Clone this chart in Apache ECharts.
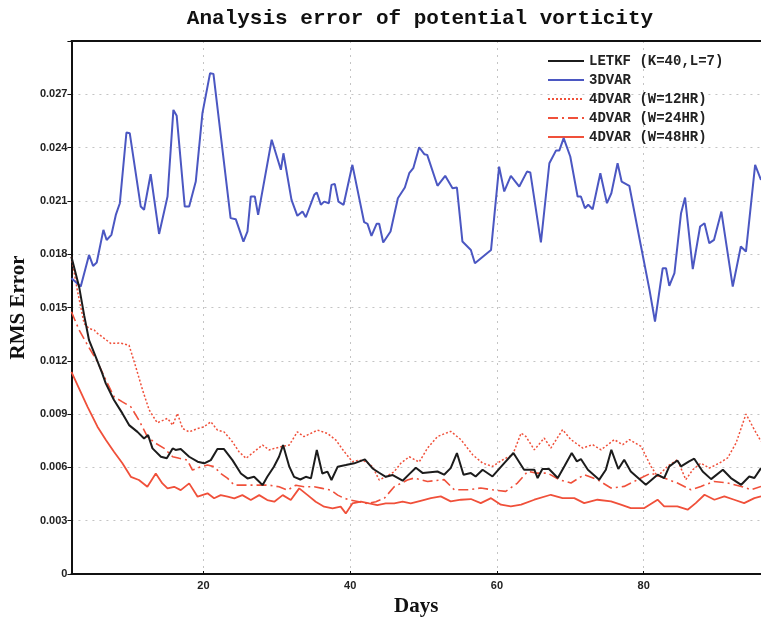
<!DOCTYPE html>
<html><head><meta charset="utf-8">
<script src="https://cdn.jsdelivr.net/npm/echarts@6/dist/echarts.min.js"></script>
<style>html,body{margin:0;padding:0;background:#fff}#c{width:761px;height:623px}</style>
</head><body><div id="c"></div>
<script>
// values are RMS error in units of 1e-3, x = day
const titleText = 'Analysis error of potential vorticity';
const xName = 'Days';
const yName = 'RMS Error';
const seriesNames = ['LETKF (K=40,L=7)', '3DVAR', '4DVAR (W=12HR)', '4DVAR (W=24HR)', '4DVAR (W=48HR)'];
const xTicks = [20, 40, 60, 80];
const yTicks = [0, 3, 6, 9, 12, 15, 18, 21, 24, 27];

const letkf = [[2,17.85],[3.05,16.16],[3.73,14.57],[4.4,13.16],[5.3,12.23],[6.2,11.29],[6.68,10.73],[7.8,9.79],[8.95,9.04],[9.86,8.38],[11,8.0],[11.9,7.63],[12.45,7.82],[13.05,7.07],[14.2,6.6],[15,6.51],[15.8,7.07],[16.2,6.98],[16.9,7.03],[18.05,6.6],[19.2,6.32],[20.1,6.23],[21,6.41],[21.9,7.03],[22.8,7.03],[23.95,6.41],[25.1,5.66],[26,5.38],[26.9,5.47],[27.6,5.19],[28.05,5.0],[28.7,5.47],[29.6,6.04],[30.3,6.6],[30.85,7.26],[31.7,6.04],[32.35,5.47],[33.2,5.32],[33.95,5.47],[34.65,5.38],[35.45,6.98],[36.2,5.66],[36.9,5.76],[37.45,5.29],[38.3,6.04],[39.4,6.13],[40.55,6.23],[42,6.45],[43.05,5.94],[43.95,5.7],[44.85,5.47],[45.8,5.57],[47.15,5.25],[48.05,5.62],[48.95,5.98],[49.9,5.68],[51.9,5.77],[52.8,5.59],[53.7,5.96],[54.55,6.81],[55.45,5.59],[56.45,5.68],[57.1,5.49],[58.05,5.87],[59.4,5.49],[61,6.24],[62.25,6.81],[63.7,5.87],[65.1,5.87],[65.55,5.4],[66.2,5.91],[67.1,5.91],[68.3,5.4],[69.2,6.06],[70.2,6.81],[70.9,6.34],[71.45,6.47],[72.4,5.87],[73.95,5.31],[74.85,5.87],[75.6,6.99],[76.55,5.91],[77.35,6.43],[78.25,5.77],[80.3,5.02],[81.9,5.59],[82.8,5.4],[83.5,6.06],[84.6,6.39],[85.1,6.06],[86.2,6.34],[86.9,6.49],[88.05,5.77],[89.2,5.34],[90.8,5.87],[91.9,5.4],[93.3,5.02],[94.4,5.49],[95.1,5.4],[96,5.96]];

const var3d = [[2,16.65],[3.27,16.18],[4.4,17.96],[4.95,17.34],[5.45,17.53],[6.36,19.37],[6.8,18.8],[7.45,19.09],[8.05,20.21],[8.6,20.87],[9.5,24.85],[9.95,24.81],[11.45,20.68],[11.9,20.5],[12.8,22.5],[13.95,19.14],[15.1,21.25],[15.9,26.12],[16.35,25.79],[17.45,20.68],[18.05,20.68],[18.95,22.09],[19.86,25.94],[20.9,28.19],[21.36,28.15],[23.7,20.03],[24.4,19.97],[25.45,18.71],[26,19.28],[26.45,21.25],[27,21.25],[27.45,20.21],[29.3,24.44],[30.55,22.75],[30.9,23.68],[32,21.06],[32.8,20.16],[33.5,20.4],[33.95,20.08],[35.1,21.34],[35.45,21.47],[36,20.78],[36.45,20.96],[37.1,20.87],[37.45,21.9],[37.9,21.96],[38.4,20.96],[39.1,20.78],[40.3,23.03],[41.9,19.8],[42.36,19.71],[42.9,19.03],[43.6,19.71],[43.95,19.71],[44.5,18.66],[45.5,19.28],[46.5,21.15],[47.45,21.75],[48.05,22.56],[48.6,22.84],[49.4,24.02],[50.1,23.63],[50.5,23.59],[51.9,21.85],[52.95,22.41],[53.95,21.71],[54.55,21.75],[55.3,18.71],[56.45,18.24],[57,17.49],[59.2,18.24],[60.3,22.93],[61,21.53],[61.9,22.41],[63.05,21.81],[64.1,22.65],[64.55,22.6],[66,18.66],[67.15,23.12],[68.05,23.83],[68.5,23.83],[69.1,24.53],[70,23.5],[71,21.25],[71.45,21.25],[72,20.59],[72.45,20.78],[73.05,20.53],[74.1,22.56],[75,20.87],[75.6,21.43],[76.45,23.12],[77,22.09],[78.05,21.85],[79.6,18.53],[80.8,15.99],[81.55,14.21],[82.6,17.21],[83.05,17.21],[83.5,16.22],[84.2,16.93],[85.1,20.31],[85.65,21.19],[86.7,17.16],[87.7,19.56],[88.3,19.74],[88.95,18.62],[89.6,18.81],[90.6,20.4],[92.15,16.18],[93.25,18.43],[93.95,18.15],[95.2,23.03],[96,22.18]];

const var4d12 = [[2,17.85],[2.8,15.98],[3.73,14.1],[4.4,13.82],[5.1,13.73],[5.55,13.54],[6.2,13.35],[7.35,12.98],[8.7,13.0],[9.85,12.88],[10.77,11.66],[11.7,10.35],[12.6,9.23],[13.7,8.51],[15.1,8.76],[15.8,8.38],[16.45,9.04],[17.15,8.19],[18.05,8.0],[19.2,8.19],[20.1,8.29],[21,8.57],[21.9,8.1],[22.8,8.0],[23.95,7.44],[24.85,6.88],[25.8,6.51],[26.9,6.88],[28.05,7.26],[28.95,6.98],[29.65,7.07],[30.55,7.16],[31.7,7.26],[32.8,8.0],[33.7,7.73],[35.55,8.1],[36.9,7.91],[38.05,7.54],[39.2,6.88],[40.3,6.32],[41.2,6.41],[42.15,6.32],[43.05,6.04],[43.95,5.29],[44.85,5.47],[46,5.76],[46.9,6.23],[48.05,6.6],[49.4,6.3],[50.55,7.09],[51.9,7.74],[53.7,8.03],[55.1,7.56],[56.7,6.71],[58.05,6.24],[59.4,6.06],[60.8,6.43],[62.15,6.71],[63.3,7.93],[63.95,7.74],[65.1,6.99],[66.45,7.65],[67.35,7.09],[68.95,8.12],[70.1,7.56],[71.7,7.09],[73.05,7.28],[74.2,6.99],[76,7.56],[77.15,7.28],[78.05,7.56],[79.65,7.18],[81,6.06],[81.9,5.49],[83.25,6.06],[84.6,6.43],[85.75,5.31],[86.7,5.87],[87.8,6.24],[88.95,5.96],[90.3,6.24],[91.45,6.53],[92.6,7.37],[93.95,9.0],[95.1,8.12],[96,7.46]];

const var4d24 = [[2,14.76],[3.05,13.73],[4.2,12.88],[5.55,11.94],[6.7,10.91],[7.8,9.98],[8.95,9.69],[10.1,9.41],[11.2,8.66],[12.35,7.73],[13.5,7.35],[14.65,7.07],[15.8,6.6],[16.7,6.51],[17.8,6.41],[18.5,5.85],[19.65,6.04],[20.55,6.13],[21.45,6.04],[22.35,5.66],[23.3,5.38],[24.2,5.0],[25.3,5.0],[26.45,5.0],[27.8,5.0],[28.95,5.0],[30.3,4.91],[31.45,4.72],[32.6,5.0],[33.7,4.91],[35.1,4.91],[36.2,4.82],[37.35,4.72],[38.3,4.44],[39.2,4.26],[40.1,4.16],[41.2,4.07],[42.35,3.97],[43.5,4.07],[44.65,4.26],[46,4.91],[46.9,5.1],[47.8,5.29],[48.7,5.4],[50.55,5.21],[52.8,5.31],[54.2,4.74],[56.2,4.74],[57.8,4.84],[59.4,4.74],[61.2,4.65],[62.8,5.12],[64.2,5.78],[65.3,5.68],[66.9,5.68],[68.5,5.31],[70.1,5.12],[71.9,5.59],[73.7,5.31],[75.55,4.84],[77.35,4.93],[79.2,5.31],[81,5.68],[82.8,5.4],[84.6,5.12],[86.45,4.74],[87.8,4.93],[89.6,5.21],[91.45,5.12],[93.3,4.93],[94.65,4.74],[96,4.93]];

const var4d48 = [[2,11.38],[3.05,10.44],[4.2,9.41],[5.55,8.29],[6.7,7.54],[7.8,6.88],[8.95,6.23],[10.1,5.47],[11.2,5.29],[12.35,4.91],[13.5,5.66],[14.4,5.1],[15.1,4.82],[16,4.91],[16.9,4.72],[18.05,5.1],[19.2,4.35],[20.55,4.54],[21.45,4.26],[22.35,4.44],[23.3,4.35],[24.2,4.26],[25.3,4.44],[26.45,4.16],[27.6,4.44],[28.7,4.16],[29.65,4.07],[30.8,4.44],[31.9,4.16],[33.05,4.82],[34.2,4.44],[35.3,4.07],[36.45,3.79],[37.6,3.69],[38.7,3.79],[39.4,3.41],[40.3,3.97],[41.45,4.07],[42.6,3.97],[43.7,3.88],[44.85,3.97],[46,3.97],[47.15,4.07],[48.25,3.97],[49.6,4.12],[51,4.27],[52.35,4.37],[53.7,4.09],[55.1,4.18],[56.45,4.22],[57.8,3.99],[59.2,4.27],[60.55,3.9],[61.9,3.81],[63.3,3.9],[65.1,4.18],[67.35,4.46],[68.95,4.27],[70.55,4.27],[71.9,3.99],[73.7,4.18],[75.55,4.09],[76.9,3.9],[78.25,3.71],[80.1,3.71],[81.9,4.18],[82.8,3.81],[84.6,3.81],[86,3.62],[87.1,3.99],[88.3,4.46],[89.65,4.18],[91,4.37],[92.35,4.18],[93.7,3.99],[95.1,4.27],[96,4.37]];

const seriesData = [letkf, var3d, var4d12, var4d24, var4d48];
const seriesColors = ['#1c1c1c', '#4b57c2', '#f0503a', '#f0503a', '#f0503a'];
const seriesTypes = ['solid', 'solid', [2, 2], [10, 4, 2, 4], 'solid'];
const seriesWidths = [2, 2, 1.5, 1.6, 1.8];

const chart = echarts.init(document.getElementById('c'), null, {renderer: 'canvas'});
const labelFont = {fontFamily: 'Liberation Sans', fontWeight: 'bold', fontSize: 11, color: '#222'};
const grid = {left: 69, right: 0, top: 41, bottom: 49};
chart.setOption({
  animation: false,
  backgroundColor: '#fff',
  title: {
    text: titleText, left: 415, top: 3, textAlign: 'center',
    textStyle: {fontFamily: 'Liberation Mono', fontSize: 21, fontWeight: 'bold', color: '#111'}
  },
  grid: grid,
  legend: {
    orient: 'vertical', left: 547, top: 54, padding: 0, itemWidth: 36, itemHeight: 14, itemGap: 5,
    data: seriesNames,
    itemStyle: {opacity: 0, borderWidth: 0},
    textStyle: {fontFamily: 'Liberation Mono', fontWeight: 'bold', fontSize: 14, color: '#222'}
  },
  xAxis: [{
    type: 'value', min: 2, max: 96,
    name: xName, nameLocation: 'middle', nameGap: 22,
    nameTextStyle: {fontFamily: 'Liberation Serif', fontWeight: 'bold', fontSize: 21, color: '#111'},
    axisLine: {show: true, lineStyle: {color: '#111', width: 2}},
    axisTick: {show: true, customValues: xTicks, length: 3, inside: true, lineStyle: {color: '#111'}},
    axisLabel: {customValues: xTicks, margin: 6, ...labelFont},
    splitLine: {show: true, lineStyle: {color: '#c4c4c4', type: [2, 5], width: 1}}
  }, {
    type: 'value', min: 2, max: 96, position: 'top',
    axisLine: {show: true, lineStyle: {color: '#111', width: 2}},
    axisTick: {show: false}, axisLabel: {show: false}, splitLine: {show: false}
  }],
  yAxis: {
    type: 'value', min: 0, max: 30, interval: 3,
    name: yName, nameLocation: 'middle', nameGap: 40,
    nameTextStyle: {fontFamily: 'Liberation Serif', fontWeight: 'bold', fontSize: 21, color: '#111'},
    axisLine: {show: true, lineStyle: {color: '#111', width: 2}},
    axisTick: {show: true, length: 4, lineStyle: {color: '#111'}},
    axisLabel: {
      margin: 4, ...labelFont,
      formatter: v => (v === 0 ? '0' : (yTicks.indexOf(Math.round(v)) >= 0 ? (v / 1000).toFixed(3) : ''))
    },
    splitLine: {show: true, lineStyle: {color: '#c4c4c4', type: [2, 5], width: 1}}
  },
  series: seriesData.map((d, i) => ({
    name: seriesNames[i], type: 'line', data: d, xAxisIndex: 0,
    symbol: 'none', showSymbol: false, smooth: false, clip: true,
    z: i === 0 ? 5 : (i === 1 ? 4 : 3),
    itemStyle: {color: seriesColors[i]},
    lineStyle: {color: seriesColors[i], width: seriesWidths[i], type: seriesTypes[i]}
  }))
});
</script></body></html>
